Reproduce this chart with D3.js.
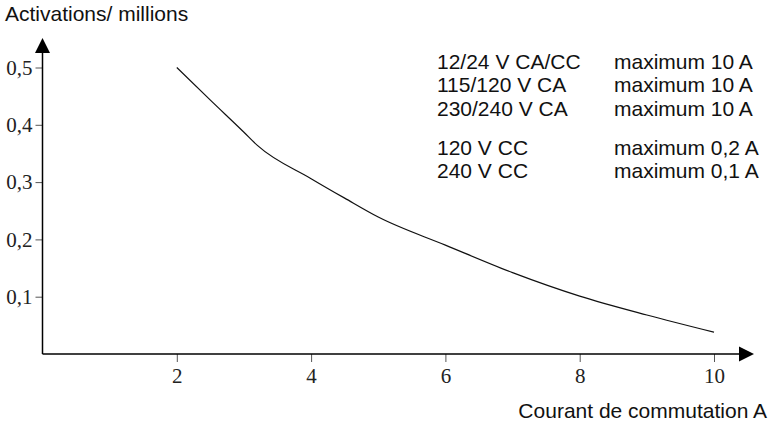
<!DOCTYPE html>
<meta charset="UTF-8">
<style>
body { margin: 0; background: #fff; }
</style>
<body>
<script src="https://d3js.org/d3.v7.min.js"></script>
<script>

// curve
var current = [2, 2.5, 3, 3.2, 4, 4.5, 5, 6, 7, 8, 9, 10];
var activations = [0.5, 0.443, 0.387, 0.364, 0.306, 0.272, 0.239, 0.19, 0.142, 0.101, 0.068, 0.038];

var xTicks = [2, 4, 6, 8, 10];
var yTicks = [0.1, 0.2, 0.3, 0.4, 0.5];

var legendLeft = ["12/24 V CA/CC", "115/120 V CA", "230/240 V CA", "120 V CC", "240 V CC"];
var legendRight = ["maximum 10 A", "maximum 10 A", "maximum 10 A", "maximum 0,2 A", "maximum 0,1 A"];

var width = 770, height = 424;
var ox = 42.5, oy = 354;
var SANS = "'Liberation Sans', Arial, Helvetica, sans-serif";
var SERIF = "'Liberation Serif', 'Times New Roman', Times, serif";

var svg = d3.select("body").append("svg")
    .attr("width", width)
    .attr("height", height);

var x = d3.scaleLinear().domain([0, 10]).range([ox, ox + 671.5]);
var y = d3.scaleLinear().domain([0, 0.5]).range([oy, oy - 286.5]);

// axes
var xAxis = d3.axisBottom(x).tickValues(xTicks).tickSize(8).tickPadding(6)
    .tickFormat(d3.format("d"));
var yAxis = d3.axisLeft(y).tickValues(yTicks).tickSize(7).tickPadding(3)
    .tickFormat(function(d) { return d3.format(".1f")(d).replace(".", ","); });

var gx = svg.append("g").attr("transform", "translate(0," + oy + ")").call(xAxis);
var gy = svg.append("g").attr("transform", "translate(" + ox + ",0)").call(yAxis);
[gx, gy].forEach(function(g) {
  g.select(".domain").remove();
  g.selectAll(".tick line").attr("stroke", "#555").attr("stroke-width", 1);
  g.selectAll(".tick text")
      .style("font-family", SERIF)
      .style("font-size", "21px")
      .attr("fill", "#222");
});

// axis lines with arrows
svg.append("line").attr("x1", ox).attr("x2", ox).attr("y1", oy).attr("y2", 50)
    .attr("stroke", "#000").attr("stroke-width", 1.5);
svg.append("line").attr("x1", ox).attr("x2", 742).attr("y1", oy).attr("y2", oy)
    .attr("stroke", "#000").attr("stroke-width", 1.5);
svg.append("path").attr("d", "M" + ox + ",38 L" + (ox + 7.5) + ",53 L" + (ox - 7.5) + ",53 Z")
    .attr("fill", "#000");
svg.append("path").attr("d", "M754," + oy + " L739," + (oy - 7.5) + " L739," + (oy + 7.5) + " Z")
    .attr("fill", "#000");

// curve
var line = d3.line()
    .x(function(d, i) { return x(current[i]); })
    .y(function(d) { return y(d); })
    .curve(d3.curveMonotoneX);

svg.append("path").datum(activations)
    .attr("d", line)
    .attr("fill", "none")
    .attr("stroke", "#111")
    .attr("stroke-width", 1.2);

function label(t, px, py, anchor) {
  return svg.append("text").attr("x", px).attr("y", py)
      .attr("text-anchor", anchor || "start")
      .style("font-family", SANS)
      .style("font-size", "21px")
      .attr("fill", "#111")
      .text(t);
}

// titles
label("Activations/ millions", 5, 21);
label("Courant de commutation A", 767, 418, "end");

// legend block
var rowY = [69, 92, 116, 155, 178];
legendLeft.forEach(function(t, i) {
  label(t, 437, rowY[i]);
  label(legendRight[i], 614, rowY[i]);
});

</script>
</body>
